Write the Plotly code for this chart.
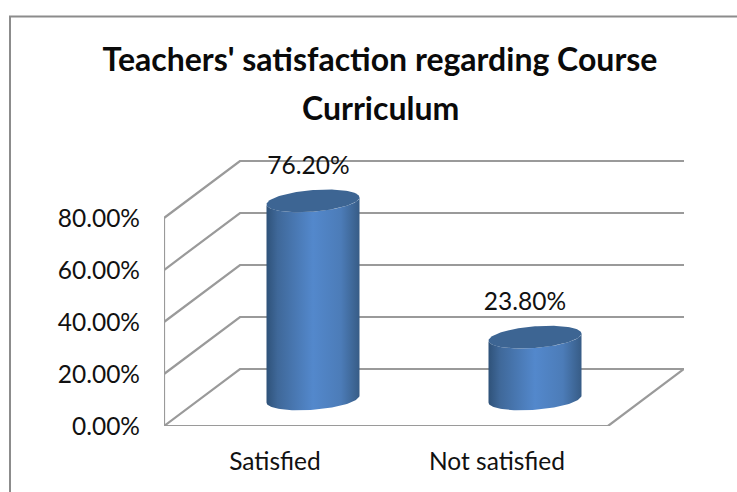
import numpy as np
import plotly.graph_objects as go

categories = ["Satisfied", "Not satisfied"]
values = [76.2, 23.8]
value_labels = ["76.20%", "23.80%"]
tick_values = [0, 20, 40, 60, 80]
tick_labels = ["0.00%", "20.00%", "40.00%", "60.00%", "80.00%"]
title_lines = ["Teachers' satisfaction regarding Course", "Curriculum"]

W, H = 737, 492
L, R, T, B = 164, 684, 160, 426
PX_X = 222.0          # pixels per category
PX_Y = 2.6            # pixels per percent
DX = 76 / PX_X        # depth offset, category units
DY = 57 / PX_Y        # depth offset, percent units
RX = 46.5 / PX_X      # cylinder radius, x
RY = 10.8 / PX_Y      # ellipse minor
TILT = 3.5 / PX_Y     # ellipse tilt
LABEL_SHIFT = [-4.5, -10]
GRID = "#9a9a9a"
TXT = "#111111"
FONT = "Lato"
FS = 24.5

fig = go.Figure()


def line(xs, ys, color=GRID, width=2.2):
    fig.add_trace(go.Scatter(x=xs, y=ys, mode="lines", hoverinfo="skip", cliponaxis=False,
                             line=dict(color=color, width=width), showlegend=False))


n = len(categories)
# walls and floor
for v in tick_values:
    line([0, DX, n + DX], [v, v + DY, v + DY])
line([0, 0], [0, tick_values[-1]])
line([0, n, n + DX], [0, 0, DY])

t = np.linspace(0, 2 * np.pi, 121)
lower = np.linspace(np.pi, 2 * np.pi, 61)
for i, (cat, v) in enumerate(zip(categories, values)):
    cx = i + 0.5 + DX / 2
    base = DY / 2 - 1.5 / PX_Y
    top = base + v
    # body
    bx = cx + RX * np.cos(lower)
    by = base + RY * np.sin(lower) + TILT * np.cos(lower)
    xs = np.concatenate([bx, bx[::-1]])
    ys = np.concatenate([by, (by + v)[::-1]])
    xs = np.append(xs, xs[0])
    ys = np.append(ys, ys[0])
    fig.add_trace(go.Scatter(
        x=xs, y=ys, mode="lines", fill="toself", hoverinfo="skip", showlegend=False,
        line=dict(width=0, color="rgba(0,0,0,0)"),
        fillgradient=dict(type="horizontal", colorscale=[
            [0, "#2f5279"], [0.12, "#3f6899"], [0.5, "#5388cc"],
            [0.8, "#4c7cb8"], [1, "#375c86"]]),
    ))
    # cap
    fig.add_trace(go.Scatter(
        x=cx + RX * np.cos(t), y=top + RY * np.sin(t) + TILT * np.cos(t),
        mode="lines", fill="toself", fillcolor="#3d6593", hoverinfo="skip",
        line=dict(width=0, color="rgba(0,0,0,0)"), showlegend=False))
    # value label
    fig.add_trace(go.Scatter(
        x=[cx + LABEL_SHIFT[i] / PX_X], y=[top + 33 / PX_Y], mode="text", text=[value_labels[i]],
        textposition="middle center", textfont=dict(family=FONT, size=FS, color=TXT),
        cliponaxis=False, hoverinfo="skip", showlegend=False))

title_font = dict(family=FONT, size=32, color="#0a0a0a", weight="bold")
fig.update_layout(
    width=W, height=H, autosize=False,
    margin=dict(l=L, r=W - R, t=T, b=H - B, pad=0),
    paper_bgcolor="white", plot_bgcolor="white", showlegend=False,
    title=dict(text=title_lines[0], x=380 / W, xanchor="center",
               y=1 - 60 / H, yanchor="middle", font=title_font),
    annotations=[dict(text=title_lines[1], xref="paper", yref="paper",
                      x=(380 - L) / (R - L), y=(B - 108) / (B - T),
                      xanchor="center", yanchor="middle", showarrow=False, font=title_font)],
    xaxis=dict(range=[0, n + DX], tickmode="array",
               tickvals=[i + 0.5 for i in range(n)], ticktext=categories,
               showgrid=False, zeroline=False, showline=False, ticks="",
               ticklabelstandoff=18,
               tickfont=dict(family=FONT, size=FS, color=TXT), fixedrange=True),
    yaxis=dict(range=[0, (B - T) / PX_Y], tickmode="array",
               tickvals=tick_values, ticktext=tick_labels,
               showgrid=False, zeroline=False, showline=False, ticks="",
               ticklabelstandoff=23,
               tickfont=dict(family=FONT, size=FS, color=TXT), fixedrange=True),
    shapes=[dict(type="rect", xref="paper", yref="paper",
                 x0=(10 - L) / (R - L), x1=(W + 20 - L) / (R - L),
                 y0=(B - H - 20) / (B - T), y1=(B - 16.5) / (B - T),
                 line=dict(color="#8c8c8c", width=2), fillcolor="rgba(0,0,0,0)", layer="below")],
)

fig.write_html("out.html", config={"displayModeBar": False},
               post_script="document.body.style.margin='0';document.body.style.overflow='hidden';")
